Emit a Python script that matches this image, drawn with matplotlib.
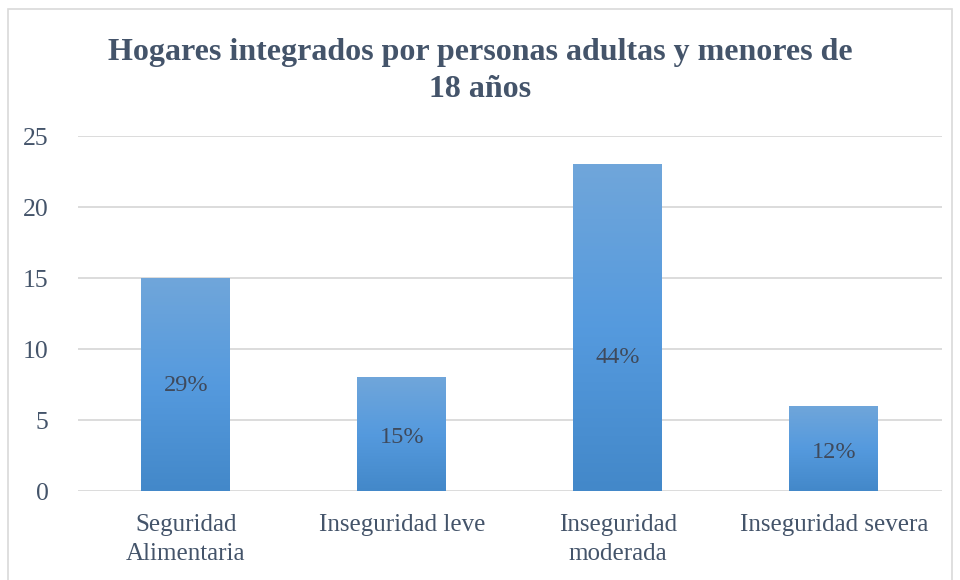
import numpy as np
import matplotlib.pyplot as plt
from matplotlib.patches import Rectangle
from matplotlib.colors import LinearSegmentedColormap

categories = ['Seguridad\nAlimentaria', 'Inseguridad leve', 'Inseguridad\nmoderada', 'Inseguridad severa']
values = [15, 8, 23, 6]
labels = ['29%', '15%', '44%', '12%']
label_y = [7.4, 3.8, 9.4, 2.7]

plt.rcParams['font.family'] = ['Liberation Serif', 'DejaVu Serif']
text_col = '#44546a'

fig = plt.figure(figsize=(9.6, 5.8), dpi=100)
ax = fig.add_axes([0.081, 0.1534, 0.9, 0.612])

# light frame round the whole chart
fig.patches.append(Rectangle((0.008, -0.02), 0.984, 1.005, transform=fig.transFigure,
                             fill=False, edgecolor='#d9d9d9', linewidth=1.2))

cmap = LinearSegmentedColormap.from_list('bar', ['#4388c9', '#559ade', '#70a6da'])
grad = np.linspace(0, 1, 256).reshape(-1, 1)

x = np.arange(len(categories))
width = 0.41
bars = ax.bar(x, values, width=width, color='none', zorder=3)
for b in bars:
    x0, y0 = b.get_x(), b.get_y()
    w, h = b.get_width(), b.get_height()
    im = ax.imshow(grad, cmap=cmap, aspect='auto', origin='lower',
                   extent=[x0, x0 + w, y0, y0 + h], zorder=3)
    im.set_clip_path(b)

for xi, yi, lab in zip(x, label_y, labels):
    ax.text(xi, yi, lab, ha='center', va='center', fontsize=17.5, color='#3f4a5c', zorder=4)

ax.set_xlim(-0.5, len(categories) - 0.5)
ax.set_ylim(0, 25)
ax.set_yticks([0, 5, 10, 15, 20, 25])
ax.set_xticks(x)
ax.set_xticklabels(categories, fontsize=18, color=text_col, linespacing=1.4)
ax.tick_params(axis='y', labelsize=18.5, labelcolor=text_col, length=0, pad=21)
ax.tick_params(axis='x', length=0, pad=16.5)
ax.grid(axis='y', color='#d9d9d9', linewidth=1.3, zorder=0)
for s in ax.spines.values():
    s.set_visible(False)

fig.text(0.5, 0.878, 'Hogares integrados por personas adultas y menores de\n18 años',
         ha='center', va='center', fontsize=23, fontweight='bold', color=text_col,
         linespacing=1.38)

fig.savefig('out.png', dpi=100)
